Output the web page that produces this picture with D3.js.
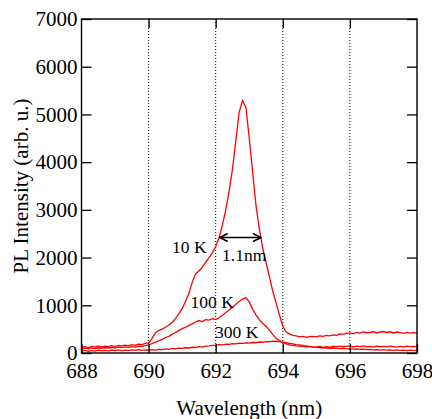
<!DOCTYPE html>
<html>
<head>
<meta charset="utf-8">
<script src="https://cdn.jsdelivr.net/npm/d3@7"></script>
<style>
  body { margin: 0; background: #fff; }
  svg { display: block; }
  text { font-family: "Liberation Serif", "Times New Roman", serif; fill: #000; }
  .axis path { display: none; }
  .axis line { stroke: #000; stroke-width: 1.3; }
  .grid line { stroke: #000; stroke-width: 1; stroke-dasharray: 1,2; }
  .curve { fill: none; stroke: #ff0000; stroke-width: 1.3; }
</style>
</head>
<body>
<svg id="chart" width="432" height="419"></svg>
<script>
// wavelength grid (nm)
var wavelengths = [
  688.0,688.1,688.2,688.3,688.4,688.5,688.6,688.7,688.8,688.9,
  689.0,689.1,689.2,689.3,689.4,689.5,689.6,689.7,689.8,689.9,
  690.0,690.1,690.2,690.3,690.4,690.5,690.6,690.7,690.8,690.9,
  691.0,691.1,691.2,691.3,691.4,691.5,691.6,691.7,691.8,691.9,
  692.0,692.1,692.2,692.3,692.4,692.5,692.6,692.7,692.8,692.9,
  693.0,693.1,693.2,693.3,693.4,693.5,693.6,693.7,693.8,693.9,
  694.0,694.1,694.2,694.3,694.4,694.5,694.6,694.7,694.8,694.9,
  695.0,695.1,695.2,695.3,695.4,695.5,695.6,695.7,695.8,695.9,
  696.0,696.1,696.2,696.3,696.4,696.5,696.6,696.7,696.8,696.9,
  697.0,697.1,697.2,697.3,697.4,697.5,697.6,697.7,697.8,697.9,698.0
];

var pl10K = [
  120,135,110,140,125,150,130,145,135,155,
  140,160,150,165,150,175,160,185,175,200,
  210,300,420,470,500,540,580,640,720,820,
  930,1080,1250,1480,1660,1720,1800,1900,2000,2100,
  2230,2420,2680,3000,3400,3850,4450,5050,5290,5150,
  4500,3800,3100,2600,2200,1900,1600,1300,1050,800,
  560,440,400,370,360,340,350,330,345,350,
  340,360,350,370,360,380,370,400,390,410,
  420,400,430,415,440,425,430,445,420,440,
  450,430,445,420,440,425,410,430,415,425,420
];

var pl100K = [
  90,100,85,105,95,110,100,115,105,120,
  110,125,115,130,120,135,125,145,140,155,
  170,195,230,255,285,320,350,390,430,470,
  510,540,580,610,650,680,660,700,690,720,
  700,740,790,850,900,960,1020,1080,1130,1160,
  1070,920,800,700,620,560,480,390,310,260,
  220,190,170,160,150,145,140,130,140,125,
  130,140,120,135,125,140,130,145,130,140,
  150,130,145,135,150,130,140,125,145,135,
  140,130,145,135,125,140,130,145,135,140,135
];

var pl300K = [
  40,55,35,50,40,60,45,55,40,60,
  50,65,45,60,50,65,55,70,55,65,
  55,70,60,75,70,85,75,95,85,100,
  95,110,105,120,115,135,125,145,150,160,
  165,175,170,185,180,195,190,205,200,210,
  205,220,215,230,225,240,235,250,245,240,
  225,215,200,190,175,170,155,150,135,130,
  120,115,110,105,100,105,95,90,95,85,
  90,80,85,75,80,70,75,65,70,60,
  70,60,65,55,65,55,60,50,60,50,55
];

var xTicks = [688, 690, 692, 694, 696, 698];
var yTicks = [0, 1000, 2000, 3000, 4000, 5000, 6000, 7000];
var gridTicks = [690, 692, 694, 696];

var plotLeft = 81.5, plotRight = 417, plotTop = 19, plotBottom = 353;

var svg = d3.select("#chart");

var x = d3.scaleLinear().domain([688, 698]).range([plotLeft, plotRight]);
var y = d3.scaleLinear().domain([0, 7000]).range([plotBottom, plotTop]);

// dotted vertical grid
svg.append("g")
  .attr("class", "grid")
  .selectAll("line")
  .data(gridTicks)
  .enter()
  .append("line")
  .attr("x1", function(d) { return x(d); })
  .attr("x2", function(d) { return x(d); })
  .attr("y1", plotTop)
  .attr("y2", plotBottom);

// spectra
var line = d3.line()
  .x(function(d, i) { return x(wavelengths[i]); })
  .y(function(d) { return y(d); });

[pl300K, pl100K, pl10K].forEach(function(series) {
  svg.append("path")
    .datum(series)
    .attr("class", "curve")
    .attr("d", line);
});

// axes with inward ticks
svg.append("g")
  .attr("class", "axis")
  .attr("transform", "translate(" + plotLeft + ",0)")
  .call(d3.axisLeft(y).tickValues(yTicks).tickSizeInner(-10).tickSizeOuter(0).tickPadding(4).tickFormat(d3.format("d")))
  .selectAll("text")
  .style("font-size", "21px");

svg.append("g")
  .attr("class", "axis")
  .attr("transform", "translate(" + plotRight + ",0)")
  .call(d3.axisRight(y).tickValues(yTicks).tickSizeInner(-10).tickSizeOuter(0).tickFormat(""));

svg.append("g")
  .attr("class", "axis")
  .attr("transform", "translate(0," + plotBottom + ")")
  .call(d3.axisBottom(x).tickValues(xTicks).tickSizeInner(-9).tickSizeOuter(0).tickPadding(10).tickFormat(d3.format("d")))
  .selectAll("text")
  .style("font-size", "21px");

svg.append("g")
  .attr("class", "axis")
  .attr("transform", "translate(0," + plotTop + ")")
  .call(d3.axisTop(x).tickValues(gridTicks).tickSizeInner(-9).tickSizeOuter(0).tickFormat(""));

// frame
svg.append("rect")
  .attr("x", plotLeft)
  .attr("y", plotTop)
  .attr("width", plotRight - plotLeft)
  .attr("height", plotBottom - plotTop)
  .attr("fill", "none")
  .attr("stroke", "#000")
  .attr("stroke-width", 1.4);

// axis titles
svg.append("text")
  .attr("transform", "translate(28," + ((plotTop + plotBottom) / 2) + ") rotate(-90)")
  .attr("text-anchor", "middle")
  .style("font-size", "21px")
  .text("PL Intensity (arb. u.)");

svg.append("text")
  .attr("x", (plotLeft + plotRight) / 2)
  .attr("y", 415)
  .attr("text-anchor", "middle")
  .style("font-size", "21px")
  .text("Wavelength (nm)");

// FWHM arrow
var defs = svg.append("defs");
["start", "end"].forEach(function(k) {
  defs.append("marker")
    .attr("id", "arrow-" + k)
    .attr("viewBox", "0 0 10 10")
    .attr("refX", k == "end" ? 9 : 1)
    .attr("refY", 5)
    .attr("markerWidth", 10)
    .attr("markerHeight", 10)
    .attr("markerUnits", "userSpaceOnUse")
    .attr("orient", "auto")
    .append("path")
    .attr("d", k == "end" ? "M1,1 L9,5 L1,9" : "M9,1 L1,5 L9,9")
    .attr("fill", "none")
    .attr("stroke", "#000")
    .attr("stroke-width", 1.6);
});

svg.append("line")
  .attr("x1", x(692.12))
  .attr("x2", x(693.35))
  .attr("y1", y(2420))
  .attr("y2", y(2420))
  .attr("stroke", "#000")
  .attr("stroke-width", 1.6)
  .attr("marker-start", "url(#arrow-start)")
  .attr("marker-end", "url(#arrow-end)");

// curve labels
var labels = [
  {t: "10 K", wl: 690.70, v: 2096},
  {t: "1.1nm", wl: 692.19, v: 1928},
  {t: "100 K", wl: 691.25, v: 943},
  {t: "300 K", wl: 691.98, v: 314}
];

svg.selectAll("text.lab")
  .data(labels)
  .enter()
  .append("text")
  .attr("class", "lab")
  .attr("x", function(d) { return x(d.wl); })
  .attr("y", function(d) { return y(d.v); })
  .style("font-size", "17.5px")
  .text(function(d) { return d.t; });
</script>
</body>
</html>
